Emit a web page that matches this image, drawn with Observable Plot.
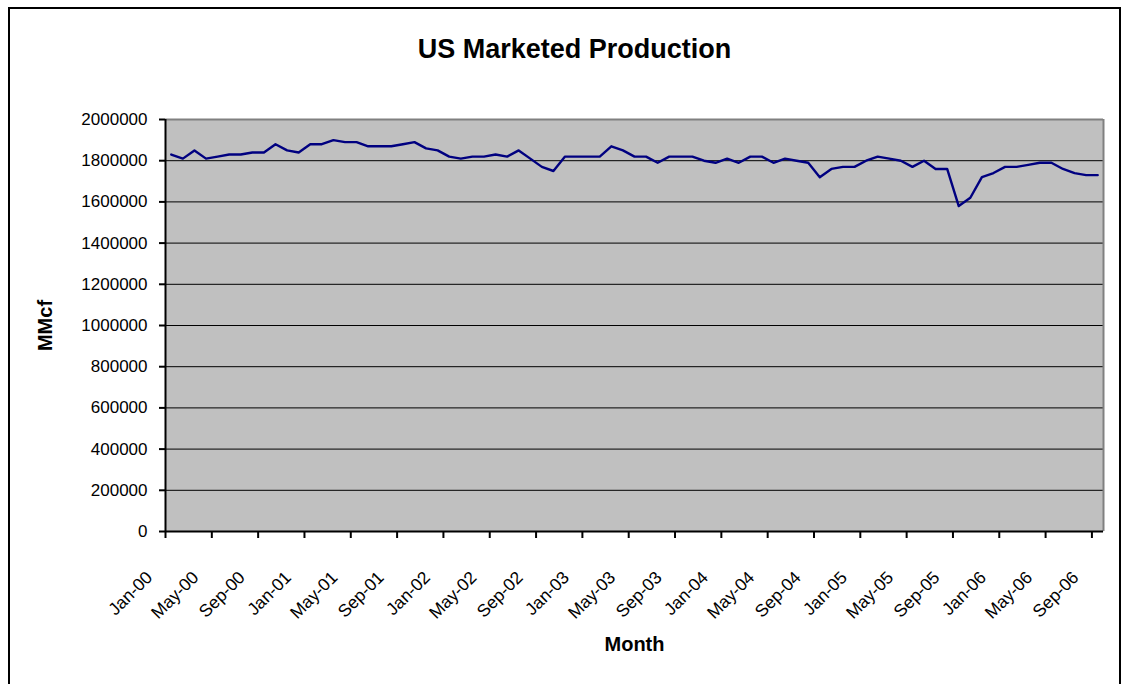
<!DOCTYPE html>
<html><head><meta charset="utf-8">
<script src="https://cdn.jsdelivr.net/npm/d3@7"></script>
<script src="https://cdn.jsdelivr.net/npm/@observablehq/plot@0.6"></script>
<style>
body{margin:0;background:#fff;}
#wrap{position:relative;width:1130px;height:684px;overflow:hidden;background:#fff;}
#wrap svg{position:absolute;left:0;top:0;}
#border{position:absolute;left:8px;top:7px;width:1113px;height:720px;border:2px solid #000;box-sizing:border-box;pointer-events:none;z-index:2;}
</style></head><body><div id="wrap"><div id="border"></div></div>
<script>
const title = "US Marketed Production";
const xTitle = "Month";
const yTitle = "MMcf";
// categories: monthly, Jan-00 .. Sep-06
const months = d3.utcMonth.range(new Date(Date.UTC(2000,0,1)), new Date(Date.UTC(2006,9,1))).map(d3.utcFormat("%b-%y"));
// US marketed production, MMcf
const production = [
  1830000,1810000,1850000,1810000,1820000,1830000,1830000,1840000,1840000,1880000,1850000,1840000,
  1880000,1880000,1900000,1890000,1890000,1870000,1870000,1870000,1880000,1890000,1860000,1850000,
  1820000,1810000,1820000,1820000,1830000,1820000,1850000,1810000,1770000,1750000,1820000,1820000,
  1820000,1820000,1870000,1850000,1820000,1820000,1790000,1820000,1820000,1820000,1800000,1790000,
  1810000,1790000,1820000,1820000,1790000,1810000,1800000,1790000,1720000,1760000,1770000,1770000,
  1800000,1820000,1810000,1800000,1770000,1800000,1760000,1760000,1580000,1620000,1720000,1740000,
  1770000,1770000,1780000,1790000,1790000,1760000,1740000,1730000,1730000
];
const yTicks = [0,200000,400000,600000,800000,1000000,1200000,1400000,1600000,1800000,2000000];
const labelStep = 4;

const data = production.map((v,i)=>({i, month: months[i], value: v}));
const n = months.length;
const labelIdx = d3.range(0, n, labelStep);
const boundaryTicks = d3.range(0, n, labelStep).map(i => i - 0.5);
const font = "'Liberation Sans', Arial, Helvetica, sans-serif";

const plot = Plot.plot({
  width: 1130, height: 684,
  marginLeft: 165, marginRight: 27, marginTop: 119, marginBottom: 153,
  style: {fontFamily: font, fontSize: "17px", color: "#000", background: "transparent", overflow: "visible"},
  x: {domain: [-0.5, n - 0.5], axis: null},
  y: {domain: [0, 2000000], axis: null},
  marks: [
    Plot.frame({fill: "#c0c0c0", stroke: null}),
    Plot.gridY(yTicks.slice(1, -1), {stroke: "#000", strokeOpacity: 1, strokeWidth: 1}),
    Plot.ruleY([yTicks[yTicks.length-1]], {stroke: "#808080", strokeWidth: 2}),
    Plot.ruleX([n - 0.5], {stroke: "#808080", strokeWidth: 2}),
    Plot.line(data, {x: "i", y: "value", stroke: "#000080", strokeWidth: 2.4}),
    Plot.ruleX([-0.5], {stroke: "#000", strokeWidth: 2}),
    Plot.ruleY([0], {stroke: "#000", strokeWidth: 2}),
    Plot.axisY(yTicks, {label: null, tickSize: 6, tickPadding: 12, tickFormat: d3.format("d"), strokeWidth: 2, strokeOpacity: 1, fontSize: 17, fill: "#000"}),
    Plot.axisX(boundaryTicks, {label: null, tickSize: 7, tickFormat: () => "", strokeWidth: 2, strokeOpacity: 1}),
    Plot.text(labelIdx, {x: d => d, text: d => months[d], frameAnchor: "bottom", rotate: -45, textAnchor: "end", dx: -18, dy: 47, fontSize: 17.5, fill: "#000"}),
    Plot.text([title], {text: d => d, frameAnchor: "top", dx: -60, dy: -81, fontSize: 27, fontWeight: "bold", fill: "#000"}),
    Plot.text([xTitle], {text: d => d, frameAnchor: "bottom", dy: 119, fontSize: 20, fontWeight: "bold", fill: "#000"}),
    Plot.text([yTitle], {text: d => d, frameAnchor: "left", textAnchor: "middle", dx: -120, rotate: -90, fontSize: 20, fontWeight: "bold", fill: "#000"})
  ]
});
document.getElementById("wrap").appendChild(plot);
</script>
</body></html>
